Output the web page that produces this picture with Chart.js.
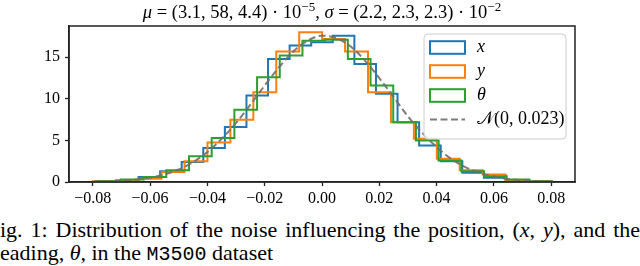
<!DOCTYPE html>
<html>
<head>
<meta charset="utf-8">
<script src="https://cdn.jsdelivr.net/npm/chart.js@4.4.1/dist/chart.umd.min.js"></script>
<style>
  body { margin: 0; width: 640px; height: 266px; overflow: hidden; background: #fff; position: relative; }
  #chart { position: absolute; left: 0; top: 0; }
  .cap { position: absolute; left: 0; width: 640px; font-family: 'Liberation Serif', serif; font-size: 22px; line-height: 23px; color: #000; }
  #cap1 { top: 218px; text-align: justify; text-align-last: justify; }
  #cap2 { top: 241px; white-space: nowrap; }
  .mono { font-family: 'Liberation Mono', monospace; font-size: 20px; }
</style>
</head>
<body>
<canvas id="chart" width="640" height="212"></canvas>
<div class="cap" id="cap1">ig. 1: Distribution of the noise influencing the position, (<i>x</i>, <i>y</i>), and the</div>
<div class="cap" id="cap2">eading, <i>θ</i>, in the <span class="mono">M3500</span> dataset</div>
<script>
// histogram bins: first edge, last edge, and bar heights (density)
const xFirstEdge = -0.0791, xLastEdge = 0.0791;
const xHeights = [0.1, 0.2, 0.6, 1.3, 2.4, 4.1, 6.6, 10.4, 14.8, 16.4, 16.8, 17.6, 14.2, 10.6, 7.2, 4.4, 2.5, 1.1, 0.5, 0.2, 0.1];
const yFirstEdge = -0.0800, yLastEdge = 0.0801;
const yHeights = [0.1, 0.2, 0.4, 1.2, 2.5, 4.75, 7.5, 10.8, 15.7, 18.0, 17.2, 15.7, 10.8, 7.2, 5.2, 2.8, 1.4, 0.9, 0.2, 0.1];
const thFirstEdge = -0.0781, thLastEdge = 0.0803;
const thHeights = [0.1, 0.3, 0.6, 1.4, 3.1, 5.3, 8.7, 12.6, 15.2, 17.0, 17.1, 14.8, 11.6, 7.2, 5.0, 2.6, 1.3, 0.7, 0.3, 0.1];

// dashed normal curve
const normX = [-0.08, -0.075, -0.07, -0.065, -0.06, -0.055, -0.05, -0.045, -0.04, -0.035, -0.03, -0.025, -0.02, -0.015, -0.01, -0.005,
               0, 0.005, 0.01, 0.015, 0.02, 0.025, 0.03, 0.035, 0.04, 0.045, 0.05, 0.055, 0.06, 0.065, 0.07, 0.075, 0.08];
const normY = [0.04, 0.07, 0.15, 0.29, 0.52, 0.91, 1.5, 2.4, 3.6, 5.2, 7.1, 9.3, 11.6, 13.8, 15.7, 17.0,
               17.6, 17.3, 16.3, 14.6, 12.5, 10.2, 7.9, 5.9, 4.2, 2.8, 1.8, 1.1, 0.66, 0.37, 0.2, 0.1, 0.05];

const seriesLabels = ['x', 'y', 'θ', '𝒩(0, 0.023)'];
const seriesColors = ['#1f77b4', '#ff7f0e', '#2ca02c', 'rgba(110,110,110,0.9)'];
const xTickValues = [-0.08, -0.06, -0.04, -0.02, 0, 0.02, 0.04, 0.06, 0.08];
const yTickValues = [0, 5, 10, 15];

const SERIF = "'Liberation Serif', 'Times New Roman', serif";
Chart.defaults.font.family = SERIF;

// turn bin edges + heights into points for a stepped outline (like histtype='step')
function stepPoints(first, last, heights) {
    const w = (last - first) / heights.length;
    const pts = [{x: first, y: 0}, {x: first, y: heights[0]}];
    heights.forEach((h, i) => pts.push({x: first + (i + 1) * w, y: heights[i + 1] !== undefined ? heights[i + 1] : 0}));
    return pts;
}

function histDataset(i, pts, order) {
    return {
        label: seriesLabels[i],
        data: pts,
        borderColor: seriesColors[i],
        borderWidth: 2,
        stepped: 'before',
        pointRadius: 0,
        fill: false,
        order: order
    };
}

// title with italic greek letters and raised exponents
const titleParts = [
    ['μ', 'i'], [' = (3.1, 58, 4.4) · 10', ''], ['−5', 's'], [', ', ''],
    ['σ', 'i'], [' = (2.2, 2.3, 2.3) · 10', ''], ['−2', 's']
];
const richTitle = {
    id: 'richTitle',
    afterDraw(chart) {
        const ctx = chart.ctx;
        const fontFor = k => k === 'i' ? 'italic 18.5px ' + SERIF : (k === 's' ? '13px ' + SERIF : '18.5px ' + SERIF);
        let total = 0;
        titleParts.forEach(p => { ctx.font = fontFor(p[1]); total += ctx.measureText(p[0]).width; });
        const area = chart.chartArea;
        let x = (area.left + area.right) / 2 - total / 2;
        const base = 17.5;
        ctx.save();
        ctx.fillStyle = '#000';
        ctx.textBaseline = 'alphabetic';
        titleParts.forEach(p => {
            ctx.font = fontFor(p[1]);
            ctx.fillText(p[0], x, p[1] === 's' ? base - 7 : base);
            x += ctx.measureText(p[0]).width;
        });
        ctx.restore();
    }
};

// matplotlib-like frame + legend box
const frameAndLegend = {
    id: 'frameAndLegend',
    afterDraw(chart) {
        const ctx = chart.ctx;
        const a = chart.chartArea;
        ctx.save();
        ctx.strokeStyle = '#222';
        ctx.lineWidth = 1.5;
        ctx.strokeRect(a.left, a.top, a.right - a.left, a.bottom - a.top);

        // legend frame
        const w = 142, h = 105;
        const lx = a.right - 9 - w, ly = a.top + 8;
        ctx.beginPath();
        ctx.roundRect(lx, ly, w, h, 4);
        ctx.fillStyle = 'rgba(255,255,255,0.8)';
        ctx.fill();
        ctx.strokeStyle = '#cccccc';
        ctx.lineWidth = 1;
        ctx.stroke();

        chart.data.datasets.forEach((ds, i) => {
            const cy = ly + 13.5 + i * 24;
            const px = lx + 6;
            ctx.strokeStyle = ds.borderColor;
            ctx.lineWidth = 2;
            if (i < 3) {
                ctx.setLineDash([]);
                ctx.strokeRect(px, cy - 6.3, 35, 12.6);
            } else {
                ctx.setLineDash([7, 3.5]);
                ctx.beginPath();
                ctx.moveTo(px, cy);
                ctx.lineTo(px + 35, cy);
                ctx.stroke();
                ctx.setLineDash([]);
            }
            ctx.fillStyle = '#000';
            ctx.font = (i < 3 ? 'italic ' : '') + '18px ' + SERIF;
            ctx.textBaseline = 'middle';
            ctx.fillText(seriesLabels[i], lx + 53, cy);
        });
        ctx.restore();
    }
};

const ctx = document.getElementById('chart').getContext('2d');
new Chart(ctx, {
    type: 'line',
    data: {
        datasets: [
            histDataset(0, stepPoints(xFirstEdge, xLastEdge, xHeights), 3),
            histDataset(1, stepPoints(yFirstEdge, yLastEdge, yHeights), 2),
            histDataset(2, stepPoints(thFirstEdge, thLastEdge, thHeights), 1),
            {
                label: seriesLabels[3],
                data: normX.map((v, i) => ({x: v, y: normY[i]})),
                borderColor: seriesColors[3],
                borderWidth: 2,
                borderDash: [7, 3.5],
                cubicInterpolationMode: 'monotone',
                pointRadius: 0,
                fill: false,
                order: 0
            }
        ]
    },
    options: {
        responsive: false,
        animation: false,
        layout: { padding: { left: 0, right: 65, top: 26, bottom: 0 } },
        plugins: {
            legend: { display: false },
            tooltip: { enabled: false },
            title: { display: false }
        },
        scales: {
            x: {
                type: 'linear',
                min: -0.0883,
                max: 0.0883,
                afterBuildTicks: s => { s.ticks = xTickValues.map(v => ({value: v})); },
                afterFit: s => { s.height = 30; },
                ticks: {
                    color: '#000',
                    font: { family: SERIF, size: 16 },
                    padding: 3,
                    maxRotation: 0,
                    callback: v => (v < 0 ? '−' : '') + Math.abs(v).toFixed(2)
                },
                grid: { drawOnChartArea: false, drawTicks: true, tickLength: 4, tickColor: '#222', tickWidth: 1.3 },
                border: { display: true, color: '#222', width: 1.5 }
            },
            y: {
                min: 0,
                max: 18.76,
                afterBuildTicks: s => { s.ticks = yTickValues.map(v => ({value: v})); },
                afterFit: s => { s.width = 69; },
                ticks: {
                    color: '#000',
                    font: { family: SERIF, size: 16 },
                    padding: 5
                },
                grid: { drawOnChartArea: false, drawTicks: true, tickLength: 4, tickColor: '#222', tickWidth: 1.3 },
                border: { display: true, color: '#222', width: 1.5 }
            }
        }
    },
    plugins: [richTitle, frameAndLegend]
});
</script>
</body>
</html>
